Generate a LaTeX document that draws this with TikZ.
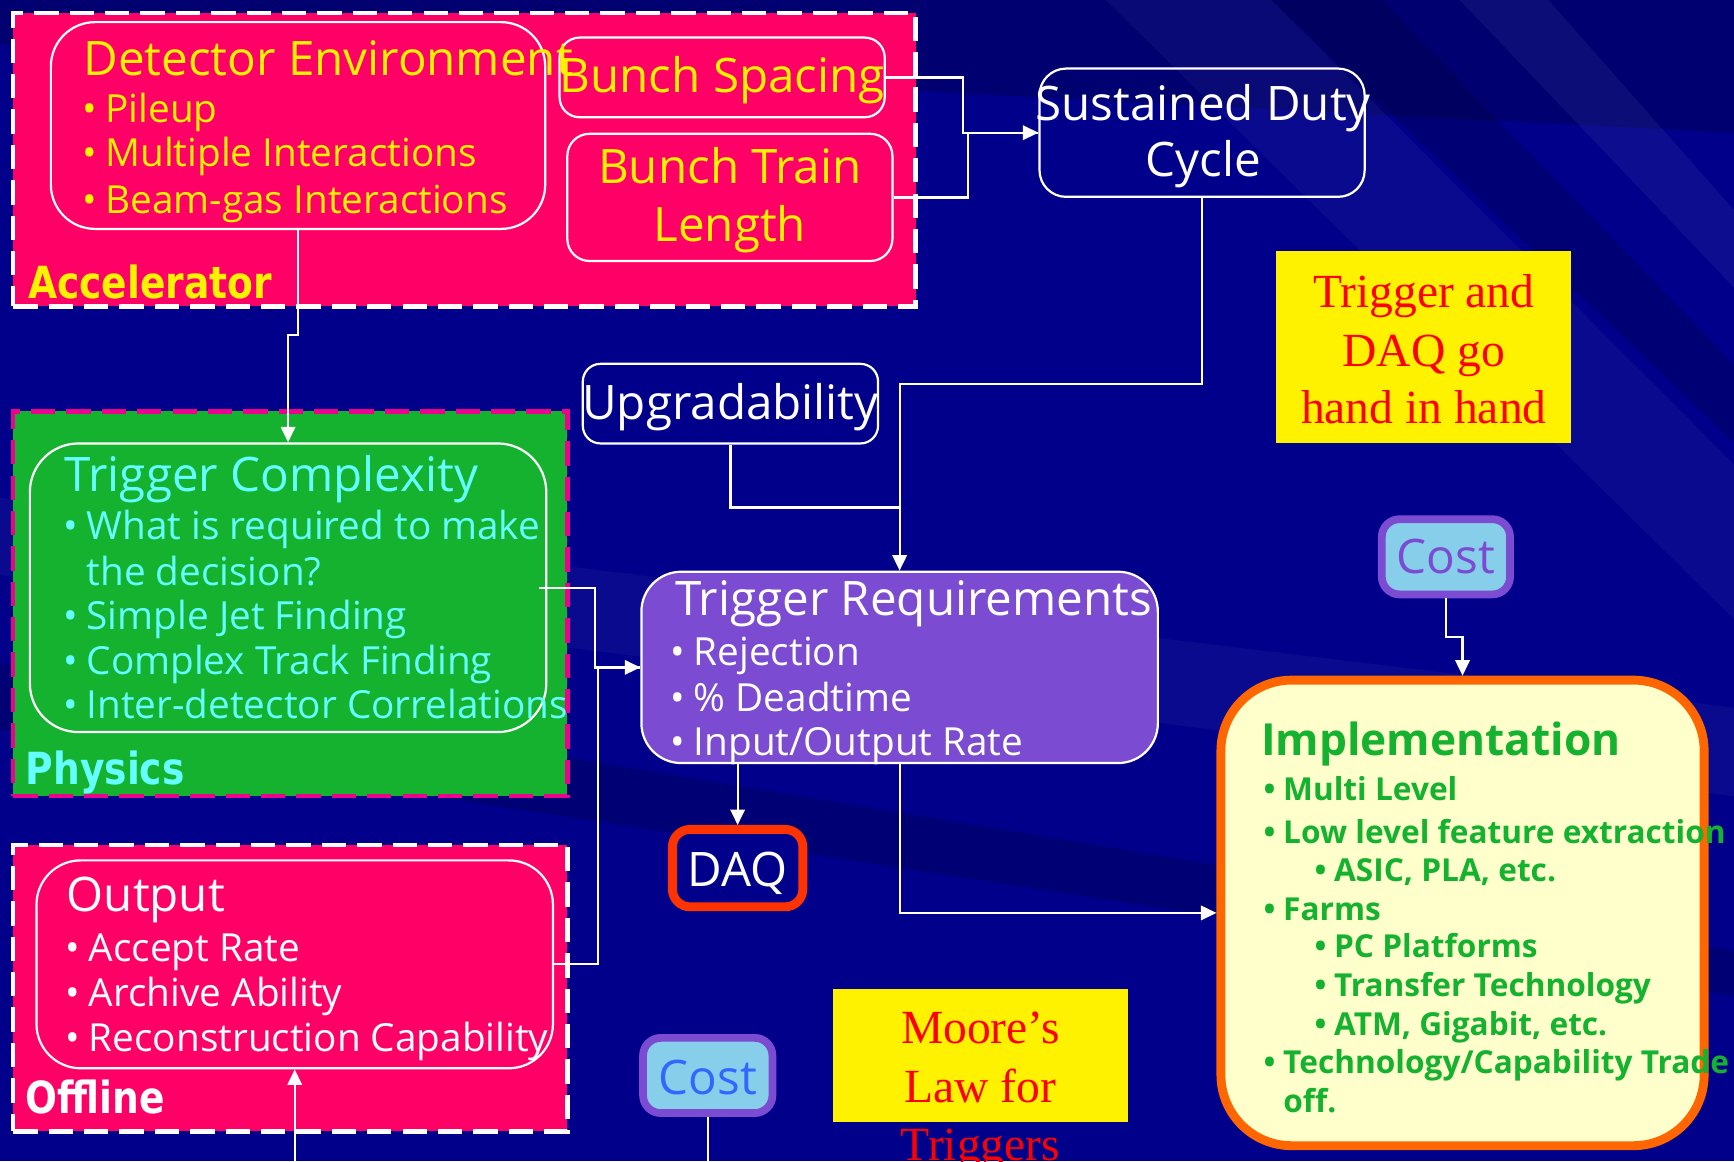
\documentclass[tikz,border=0pt]{standalone}
\usepackage{fontspec}
\usetikzlibrary{arrows.meta,fit}
\newfontfamily\comic{Open Sans}
\newfontfamily\tah[FakeStretch=0.85]{DejaVu Sans}
\newfontfamily\tnr{Liberation Serif}
\newcommand\fTitle{\comic\fontsize{21.5}{26}\selectfont}
\newcommand\fBul{\comic\fontsize{17.5}{21}\selectfont}
\newcommand\fImpT{\comic\bfseries\fontsize{20}{24}\selectfont}
\newcommand\fImpB{\comic\bfseries\fontsize{14.3}{17}\selectfont}
\newcommand\fLab{\tah\bfseries\fontsize{20}{24}\selectfont}
\newcommand\fTms{\tnr\fontsize{21.5}{26}\selectfont}
\newcommand\bulmark{\llap{\textbullet\hspace{4pt}}}
\newcommand\ibulmark{\llap{\textbullet\hspace{3.5pt}}}
\definecolor{bg}{RGB}{0,0,138}
\definecolor{pinkc}{RGB}{255,0,102}
\definecolor{greenc}{RGB}{20,178,46}
\definecolor{cyanc}{RGB}{102,255,255}
\definecolor{purplec}{RGB}{123,75,209}
\definecolor{skyc}{RGB}{135,206,235}
\definecolor{daqc}{RGB}{255,51,0}
\definecolor{orangec}{RGB}{255,102,0}
\definecolor{creamc}{RGB}{255,255,204}
\definecolor{costblue}{RGB}{51,102,255}
\tikzset{
  group/.style={line width=2pt, dash pattern=on 11pt off 5pt, inner sep=0pt},
  rbox/.style={draw=white, line width=1pt, inner sep=0pt},
  conn/.style={draw=white, line width=1pt, -{Triangle[length=7pt,width=6.5pt]}},
  link/.style={draw=white, line width=1pt},
  txt/.style={inner sep=0pt, anchor=base west},
  ctxt/.style={inner sep=0pt, anchor=base},
}
\begin{document}
\begin{tikzpicture}[x=0.5pt,y=-0.5pt]
\useasboundingbox (0,0) rectangle (1568,1050);
% background
\fill[bg] (0,0) rectangle (1568,1050);
\fill[black, opacity=0.18] (0,0) -- (1568,0) -- (1568,120) -- (0,40) -- cycle;
\fill[white, opacity=0.04] (1000,0) -- (1150,0) -- (1568,420) -- (1568,560) -- cycle;
\fill[black, opacity=0.15] (1150,0) -- (1250,0) -- (1568,330) -- (1568,400) -- cycle;
\fill[white, opacity=0.05] (1320,0) -- (1400,0) -- (1568,190) -- (1568,260) -- cycle;
\fill[white, opacity=0.04] (0,450) -- (0,520) -- (1568,720) -- (1568,640) -- cycle;
\fill[black, opacity=0.15] (0,600) -- (0,660) -- (1568,900) -- (1568,860) -- cycle;

% groups
\node[group, draw=white, fill=pinkc, fit={(12,12) (828,277)}] (acc) {};
\node[group, draw=magenta, fill=greenc, fit={(12,372) (513,720)}] (phy) {};
\node[group, draw=white, fill=pinkc, fit={(12,764) (513,1023)}] (off) {};

% boxes
\node[rbox, rounded corners=20pt, fit={(46,20) (493,207)}] (de) {};
\node[rbox, rounded corners=9pt, fit={(506,34) (800,106)}] (bs) {};
\node[rbox, rounded corners=10pt, fit={(513,121) (807,236)}] (btl) {};
\node[rbox, rounded corners=12pt, fit={(940,62) (1234,178)}] (sdc) {};
\node[rbox, rounded corners=8pt, fit={(527,329) (794,401)}] (up) {};
\node[rbox, rounded corners=22pt, fit={(27,401) (494,662)}] (tc) {};
\node[rbox, fill=purplec, rounded corners=18pt, fit={(580,517) (1047,690)}] (tr) {};
\node[draw=daqc, line width=4pt, fill=bg, rounded corners=8pt, inner sep=0pt, fit={(608,750) (726,820)}] (daq) {};
\node[draw=purplec, line width=3.5pt, fill=skyc, rounded corners=8pt, inner sep=0pt, fit={(1249.5,469.5) (1365.5,537.5)}] (costa) {};
\node[draw=purplec, line width=3.5pt, fill=skyc, rounded corners=8pt, inner sep=0pt, fit={(581.5,938.5) (698.5,1006.5)}] (costb) {};
\node[draw=orangec, line width=4pt, fill=creamc, rounded corners=32pt, inner sep=0pt, fit={(1104,615) (1541,1036)}] (impl) {};
\node[rbox, rounded corners=20pt, fit={(33,778) (500,966)}] (out) {};
\node[fill=yellow, inner sep=0pt, fit={(1154,227) (1421,401)}] (tdq) {};
\node[fill=yellow, inner sep=0pt, fit={(753,894) (1020,1015)}] (moore) {};

% connectors
\coordinate (j1) at (0,303);
\coordinate (j2) at (0,347);
\coordinate (j3) at (0,459);
\coordinate (bot) at (0,1050);
\draw[conn] (de.south) -- (de.south |- j1) -| (tc.north);
\draw[conn] (bs.east) -- ++(70,0) |- (sdc.west);
\draw[link] (btl.east) -- ++(67,0) |- (sdc.west);
\draw[conn] (sdc.south) -- (sdc.south |- j2) -| (tr.north);
\draw[link] (up.south) |- (tr.north |- j3);
\draw[conn] ([xshift=-4pt]tc.east) -- ++(51,0) |- (tr.west);
\draw[link] (out.east) -- ++(40,0) |- (tr.west);
\draw[conn] (tr.south -| daq.north) -- (daq.north);
\draw[conn] (tr.south) |- (impl.west);
\draw[conn] (costa.south) -- ++(0,35) -| (impl.north);
\draw[conn] (out.south |- bot) -- (out.south);
\draw[link] (costb.south) -- (costb.south |- bot);

% Accelerator texts
\node[txt, text=yellow] (de0) at (75,68) {\fTitle Detector Environment};
\node[txt, text=yellow] (de1) at (95,111) {\fBul\bulmark Pileup};
\node[txt, text=yellow] (de2) at (95,151) {\fBul\bulmark Multiple Interactions};
\node[txt, text=yellow] (de3) at (95,193) {\fBul\bulmark Beam-gas Interactions};
\node[ctxt, text=yellow] (bs0) at (653,84) {\fTitle Bunch Spacing};
\node[ctxt, text=yellow] (btl0) at (660,166) {\fTitle Bunch Train};
\node[ctxt, text=yellow] (btl1) at (660,218) {\fTitle Length};
\node[txt, text=yellow] (accl) at (25,270) {\fLab Accelerator};

\node[ctxt, text=white] (sdc0) at (1088,109) {\fTitle Sustained Duty};
\node[ctxt, text=white] (sdc1) at (1088,160) {\fTitle Cycle};
\node[ctxt, text=white] (up0) at (660.5,379) {\fTitle Upgradability};

% Physics texts
\node[txt, text=cyanc] (tc0) at (58,444) {\fTitle Trigger Complexity};
\node[txt, text=cyanc] (tc1) at (78,488) {\fBul\bulmark What is required to make};
\node[txt, text=cyanc] (tc2) at (78,529) {\fBul the decision?};
\node[txt, text=cyanc] (tc3) at (78,569) {\fBul\bulmark Simple Jet Finding};
\node[txt, text=cyanc] (tc4) at (78,610) {\fBul\bulmark Complex Track Finding};
\node[txt, text=cyanc] (tc5) at (78,650) {\fBul\bulmark Inter-detector Correlations};
\node[txt, text=cyanc] (phyl) at (23,709) {\fLab Physics};

% Trigger requirements
\node[txt, text=white] (tr0) at (610,557) {\fTitle Trigger Requirements};
\node[txt, text=white] (tr1) at (627,602) {\fBul\bulmark Rejection};
\node[txt, text=white] (tr2) at (627,643) {\fBul\bulmark \% Deadtime};
\node[txt, text=white] (tr3) at (627,683) {\fBul\bulmark Input/Output Rate};
\node[ctxt, text=white] (daq0) at (667,802) {\fTitle DAQ};

% Offline
\node[txt, text=white] (out0) at (60,824) {\fTitle Output};
\node[txt, text=white] (out1) at (80,869) {\fBul\bulmark Accept Rate};
\node[txt, text=white] (out2) at (80,910) {\fBul\bulmark Archive Ability};
\node[txt, text=white] (out3) at (80,951) {\fBul\bulmark Reconstruction Capability};
\node[txt, text=white] (offl) at (23,1007) {\fLab Offline};

% Cost
\node[ctxt, text=purplec] (costa0) at (1307.5,519) {\fTitle Cost};
\node[ctxt, text=costblue] (costb0) at (640,990) {\fTitle Cost};

% Implementation
\node[txt, text=greenc] (im0) at (1140,683) {\fImpT Implementation};
\node[txt, text=greenc] (im1) at (1160,724) {\fImpB\ibulmark Multi Level};
\node[txt, text=greenc] (im2) at (1160,763) {\fImpB\ibulmark Low level feature extraction};
\node[txt, text=greenc] (im3) at (1206,797) {\fImpB\ibulmark ASIC, PLA, etc.};
\node[txt, text=greenc] (im4) at (1160,832) {\fImpB\ibulmark Farms};
\node[txt, text=greenc] (im5) at (1206,866) {\fImpB\ibulmark PC Platforms};
\node[txt, text=greenc] (im6) at (1206,901) {\fImpB\ibulmark Transfer Technology};
\node[txt, text=greenc] (im7) at (1206,936) {\fImpB\ibulmark ATM, Gigabit, etc.};
\node[txt, text=greenc] (im8) at (1160,971) {\fImpB\ibulmark Technology/Capability Trade};
\node[txt, text=greenc] (im9) at (1160,1006) {\fImpB off.};

% Yellow notes
\node[ctxt, text=red] (tdq0) at (1287.5,278) {\fTms Trigger and};
\node[ctxt, text=red] (tdq1) at (1287.5,331) {\fTms DAQ go};
\node[ctxt, text=red] (tdq2) at (1287.5,383) {\fTms hand in hand};
\node[ctxt, text=red] (mo0) at (886.5,944) {\fTms Moore’s};
\node[ctxt, text=red] (mo1) at (886.5,997) {\fTms Law for};
\node[ctxt, text=red] (mo2) at (886.5,1049) {\fTms Triggers};
\end{tikzpicture}
\end{document}
